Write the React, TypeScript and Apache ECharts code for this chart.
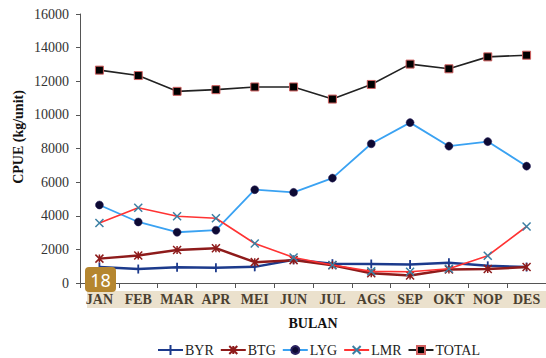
import React, { useEffect, useRef } from "react";
import * as echarts from "echarts";

const months = ["JAN", "FEB", "MAR", "APR", "MEI", "JUN", "JUL", "AGS", "SEP", "OKT", "NOP", "DES"];
const byr = [950, 830, 930, 900, 960, 1380, 1150, 1130, 1100, 1200, 1020, 950];
const btg = [1450, 1640, 1960, 2070, 1240, 1360, 1060, 580, 450, 800, 830, 950];
const lyg = [4640, 3630, 3020, 3140, 5550, 5390, 6240, 8280, 9540, 8140, 8410, 6950];
const lmr = [3570, 4480, 3970, 3850, 2350, 1520, 1070, 690, 670, 850, 1620, 3360];
const total = [12660, 12340, 11400, 11500, 11660, 11660, 10940, 11810, 13020, 12740, 13450, 13550];

const SERIF = "'Liberation Serif', 'Times New Roman', serif";

export default function App() {
  const ref = useRef<HTMLDivElement>(null);

  useEffect(() => {
    document.body.style.margin = "0";
    if (!ref.current) return;
    const chart = echarts.init(ref.current, null, { renderer: "svg" });

    chart.setOption({
      animation: false,
      backgroundColor: "#ffffff",
      textStyle: { fontFamily: SERIF },
      grid: { left: 80, top: 14, bottom: 75, width: 474, containLabel: false },
      legend: {
        top: 338,
        left: 153,
        itemWidth: 25,
        itemHeight: 10,
        itemGap: 6,
        textStyle: { fontFamily: SERIF, fontSize: 14, color: "#222", padding: [0, 0, 0, -3] },
        data: [
          { name: "BYR", icon: "path://M0,4H25V6H0ZM11.5,0H13.5V10H11.5Z" },
          "BTG",
          "LYG",
          "LMR",
          "TOTAL",
        ],
      },
      xAxis: {
        type: "category",
        data: months,
        boundaryGap: true,
        name: "BULAN",
        nameLocation: "middle",
        nameGap: 33,
        nameTextStyle: { fontFamily: SERIF, fontSize: 14, fontWeight: "bold", color: "#111" },
        axisLine: { lineStyle: { color: "#555", width: 1 } },
        axisTick: { show: true, length: 5, alignWithLabel: false, lineStyle: { color: "#555" } },
        axisLabel: {
          fontFamily: SERIF,
          fontSize: 14,
          fontWeight: "bold",
          color: "#4a4030",
          margin: 9,
          interval: 0,
        },
        splitLine: { show: false },
      },
      yAxis: {
        type: "value",
        min: 0,
        max: 16000,
        interval: 2000,
        axisLine: { show: true, lineStyle: { color: "#555", width: 1 } },
        axisTick: { show: true, length: 4, lineStyle: { color: "#555" } },
        axisLabel: {
          fontFamily: SERIF,
          fontSize: 14,
          color: "#333",
          margin: 11,
          formatter: (v: number) => String(v),
        },
        splitLine: { show: false },
      },
      graphic: [
        {
          type: "rect",
          z: -10,
          shape: { x: 87, y: 291, width: 470, height: 17 },
          style: { fill: "#ebe1cd" },
        },
        {
          type: "text",
          x: 18,
          y: 137,
          rotation: Math.PI / 2,
          style: {
            text: "CPUE (kg/unit)",
            fontFamily: SERIF,
            fontSize: 14,
            fontWeight: "bold",
            fill: "#111",
            align: "center",
            verticalAlign: "middle",
          },
        },
        {
          type: "group",
          z: 100,
          children: [
            {
              type: "rect",
              z: 100,
              shape: { x: 85, y: 267, width: 31, height: 25, r: 4 },
              style: { fill: "#b5862f" },
            },
            {
              type: "text",
              z: 101,
              x: 100.5,
              y: 280,
              style: {
                text: "18",
                fontFamily: "'Noto Sans', sans-serif",
                fontSize: 18,
                fill: "#ffffff",
                align: "center",
                verticalAlign: "middle",
              },
            },
          ],
        },
      ],
      series: [
        {
          name: "BYR",
          type: "line",
          data: byr,
          symbol: "path://M0,0H2V10H0Z",
          symbolKeepAspect: true,
          symbolSize: 9,
          lineStyle: { color: "#1c3a8c", width: 2.5 },
          itemStyle: { color: "#1c3a8c" },
          z: 3,
        },
        {
          name: "BTG",
          type: "line",
          data: btg,
          symbol: "path://M0,0L10,10M10,0L0,10M5,0L5,10",
          symbolSize: 8,
          lineStyle: { color: "#8e1b1b", width: 2.5 },
          itemStyle: { color: "#8e1b1b", borderColor: "#8e1b1b", borderWidth: 1.5 },
          z: 3,
        },
        {
          name: "LYG",
          type: "line",
          data: lyg,
          symbol: "circle",
          symbolSize: 8,
          lineStyle: { color: "#3aa2f2", width: 1.8 },
          itemStyle: { color: "#0d0a33", borderColor: "#2a2260", borderWidth: 0.5 },
          z: 4,
        },
        {
          name: "LMR",
          type: "line",
          data: lmr,
          symbol: "path://M0,0L10,10M10,0L0,10",
          symbolSize: 8,
          lineStyle: { color: "#ff3333", width: 1.6 },
          itemStyle: { color: "#3b7fa3", borderColor: "#3b7fa3", borderWidth: 1.5 },
          z: 4,
        },
        {
          name: "TOTAL",
          type: "line",
          data: total,
          symbol: "rect",
          symbolSize: 8,
          lineStyle: { color: "#222222", width: 1.6 },
          itemStyle: { color: "#000000", borderColor: "#d06060", borderWidth: 1 },
          z: 4,
        },
      ],
    });

    return () => chart.dispose();
  }, []);

  return <div ref={ref} style={{ width: 546, height: 358 }} />;
}
